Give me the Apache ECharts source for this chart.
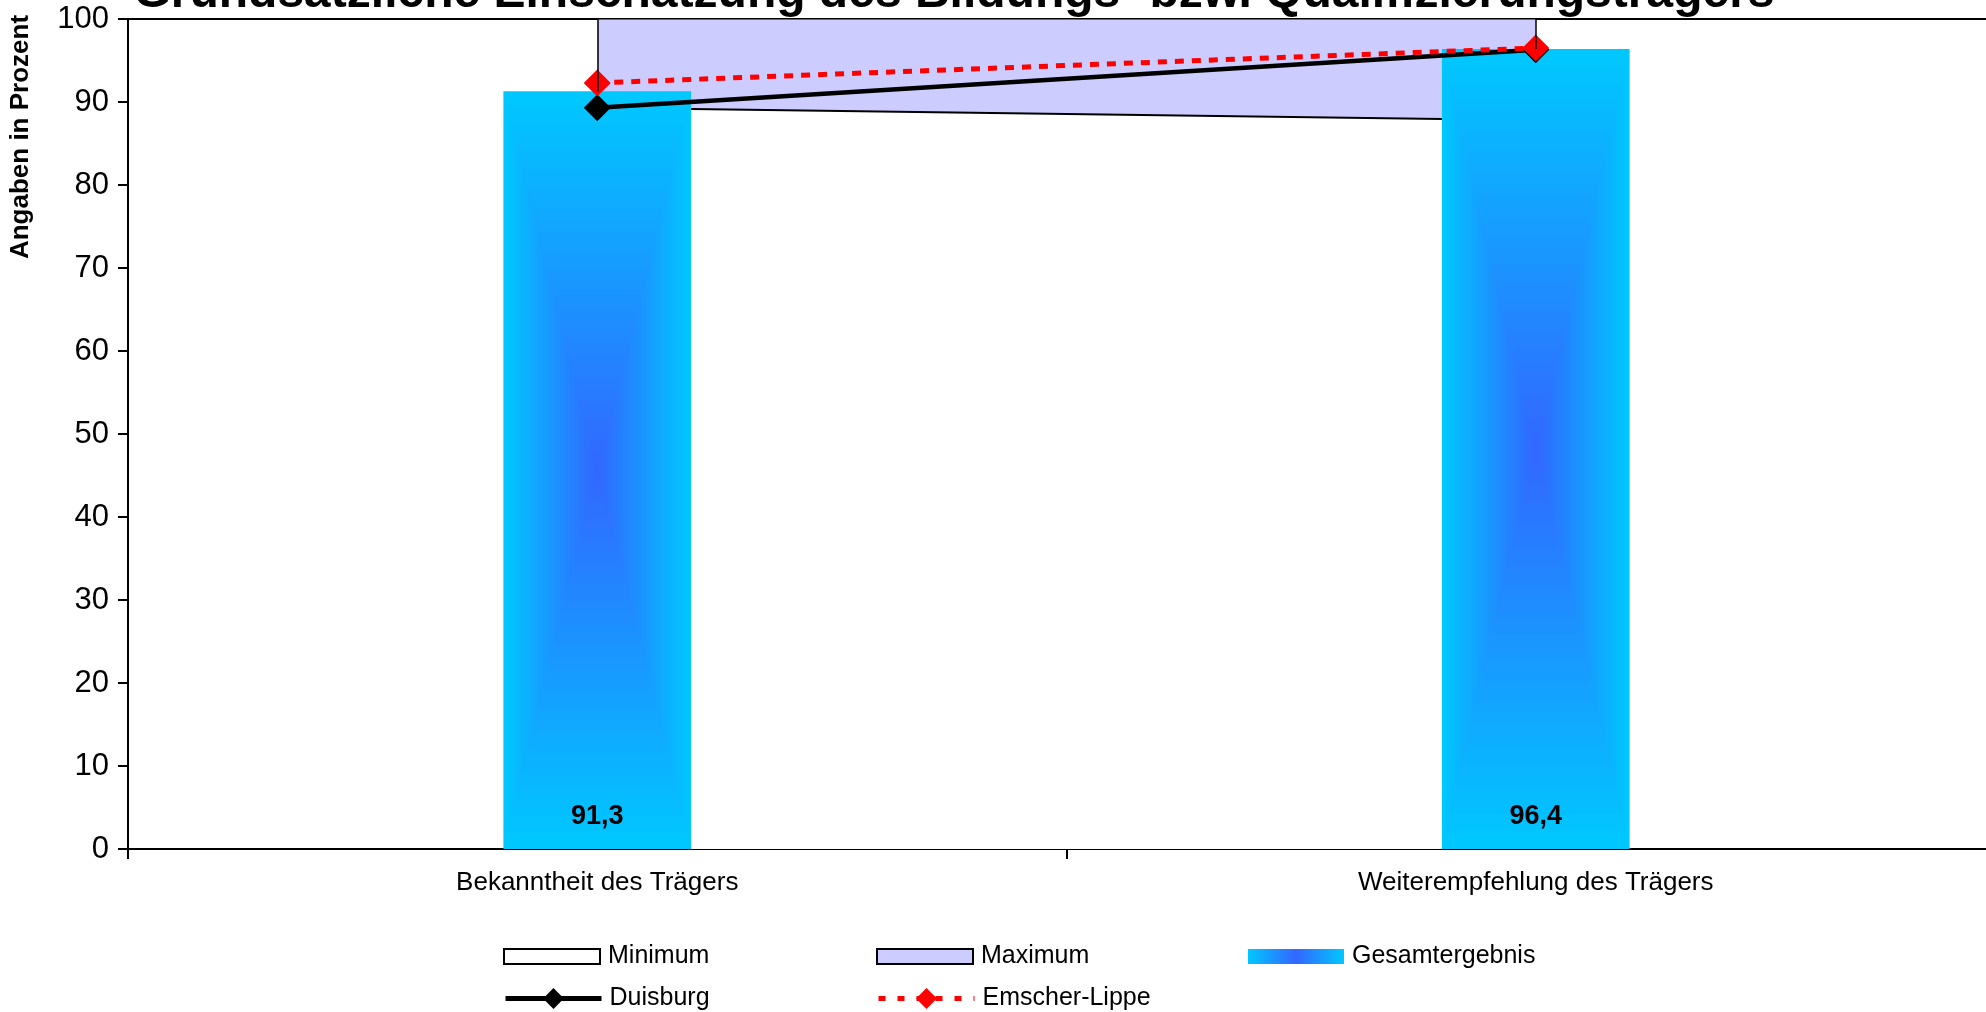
<!DOCTYPE html>
<html>
<head>
<meta charset="utf-8">
<script src="https://cdn.jsdelivr.net/npm/echarts@6/dist/echarts.min.js"></script>
<style>
html,body{margin:0;padding:0;background:#fff;}
#chart{width:1986px;height:1012px;}
</style>
</head>
<body>
<div id="chart"></div>
<script>
// ---- data ----
var categories = ['Bekanntheit des Trägers', 'Weiterempfehlung des Trägers'];
var minimum = [89.3, 87.8];
var maximum = [100, 100];
var gesamtergebnis = [91.3, 96.4];
var duisburg = [89.3, 96.3];
var emscherLippe = [92.3, 96.5];
var yTicks = { min: 0, max: 100, interval: 10 };
var titleText = 'Grundsätzliche Einschätzung des Bildungs- bzw. Qualifizierungsträgers';
var yAxisTitle = 'Angaben in Prozent';

var FONT = '"Liberation Sans", Arial, sans-serif';
var CYAN = [0, 200, 255];
var BLUE = [51, 102, 255];
function rgb(c) { return 'rgb(' + c.map(Math.round).join(',') + ')'; }
function mix(a, b, t) { return [a[0] + (b[0] - a[0]) * t, a[1] + (b[1] - a[1]) * t, a[2] + (b[2] - a[2]) * t]; }

var chart = echarts.init(document.getElementById('chart'), null, { renderer: 'canvas' });

var legendGrad = new echarts.graphic.LinearGradient(0, 0, 1, 0, [
  { offset: 0, color: rgb(CYAN) }, { offset: 0.5, color: rgb(BLUE) }, { offset: 1, color: rgb(CYAN) }
]);

// bar drawn with a rectangular "from centre" gradient (nested rectangles)
function renderGradientBar(params, api) {
  var idx = api.value(0), val = api.value(1);
  var top = api.coord([idx, val]);
  var base = api.coord([idx, 0]);
  var bw = api.size([1, 0])[0] * 0.2;
  var h = base[1] - top[1];
  var cx = top[0], cy = (top[1] + base[1]) / 2;
  var N = 80, children = [];
  for (var i = 0; i < N; i++) {
    var t = i / N;
    var w = bw * (1 - t), hh = h * (1 - t);
    children.push({
      type: 'rect',
      shape: { x: cx - w / 2, y: cy - hh / 2, width: w, height: hh },
      style: { fill: rgb(mix(CYAN, BLUE, t)) },
      silent: true
    });
  }
  return { type: 'group', children: children };
}

function legendAt(left, top, extra) {
  var l = {
    left: left, top: top, padding: 0, orient: 'horizontal',
    itemWidth: 96, itemHeight: 15, selectedMode: false,
    textStyle: { fontFamily: FONT, fontSize: 25, color: '#000', padding: [0, 0, 0, 3] }
  };
  for (var k in extra) l[k] = extra[k];
  return l;
}

var option = {
  animation: false,
  backgroundColor: '#fff',
  graphic: [
    { type: 'text', x: 954, y: -6, style: { text: titleText, font: 'bold 48px ' + FONT, fill: '#000', align: 'center', verticalAlign: 'middle' } },
    { type: 'text', x: 21, y: 137, rotation: Math.PI / 2, style: { text: yAxisTitle, font: 'bold 26px ' + FONT, fill: '#000', align: 'center', verticalAlign: 'middle' } }
  ],
  grid: { left: 128, top: 19, width: 1877, height: 830, show: true, borderColor: '#000', borderWidth: 2, backgroundColor: 'transparent', outerBoundsMode: 'none', containLabel: false },
  legend: [
    legendAt(503, 944, { data: [{ name: 'Minimum', icon: 'rect', itemStyle: { color: '#fff', borderColor: '#000', borderWidth: 2 } }] }),
    legendAt(876, 944, { data: [{ name: 'Maximum', icon: 'rect', itemStyle: { color: '#CCCCFF', borderColor: '#000', borderWidth: 2 } }] }),
    legendAt(1248, 944, { data: [{ name: 'Gesamtergebnis', icon: 'rect', itemStyle: { color: legendGrad } }] }),
    legendAt(503, 986, { itemHeight: 26, data: [{ name: 'Duisburg', lineStyle: { color: '#000', width: 5 } }] }),
    legendAt(876, 986, { itemHeight: 26, data: [{ name: 'Emscher-Lippe', lineStyle: { color: '#FF0000', width: 5, type: [7, 12] } }] })
  ],
  xAxis: {
    type: 'category', data: categories, boundaryGap: true,
    axisLine: { lineStyle: { color: '#000', width: 2 } },
    axisTick: { show: true, length: 10, lineStyle: { color: '#000', width: 2 } },
    axisLabel: { fontFamily: FONT, fontSize: 26, color: '#000', margin: 21 },
    splitLine: { show: false }
  },
  yAxis: {
    type: 'value', min: yTicks.min, max: yTicks.max, interval: yTicks.interval,
    axisLine: { show: true, lineStyle: { color: '#000', width: 2 } },
    axisTick: { show: true, length: 10, lineStyle: { color: '#000', width: 2 } },
    axisLabel: { fontFamily: FONT, fontSize: 31, color: '#000', margin: 19 },
    splitLine: { show: false }
  },
  series: [
    {
      name: 'Maximum', type: 'line', data: maximum, symbol: 'none', z: 1,
      lineStyle: { color: '#000', width: 1 },
      areaStyle: { color: '#CCCCFF', opacity: 1 },
      markLine: {
        silent: true, symbol: 'none', label: { show: false },
        lineStyle: { color: '#000', width: 1.5, type: 'solid' },
        data: [
          [{ xAxis: 0, yAxis: maximum[0] }, { xAxis: 0, yAxis: gesamtergebnis[0] }],
          [{ xAxis: 1, yAxis: maximum[1] }, { xAxis: 1, yAxis: gesamtergebnis[1] }]
        ]
      }
    },
    {
      name: 'Minimum', type: 'line', data: minimum, symbol: 'none', z: 1,
      lineStyle: { color: '#000', width: 2 },
      areaStyle: { color: '#FFFFFF', opacity: 1 }
    },
    {
      name: 'Gesamtergebnis', type: 'custom', z: 2,
      data: gesamtergebnis.map(function (v, i) { return [i, v]; }),
      encode: { x: 0, y: 1 },
      renderItem: renderGradientBar,
      itemStyle: { color: rgb(CYAN) }
    },
    {
      name: 'GesamtLabel', type: 'bar', data: gesamtergebnis, barWidth: 187, z: 2,
      itemStyle: { color: 'rgba(0,0,0,0)' },
      label: {
        show: true, position: 'insideBottom', distance: 19,
        fontFamily: FONT, fontSize: 27, fontWeight: 'bold', color: '#000',
        formatter: function (p) { return String(p.value).replace('.', ','); }
      }
    },
    {
      name: 'Duisburg', type: 'line', data: duisburg, z: 3,
      symbol: 'diamond', symbolSize: 27, showSymbol: true,
      lineStyle: { color: '#000', width: 4.5 },
      itemStyle: { color: '#000' }
    },
    {
      name: 'Emscher-Lippe', type: 'line', data: emscherLippe, z: 4,
      symbol: 'diamond', symbolSize: 27, showSymbol: true,
      lineStyle: { color: '#FF0000', width: 5, type: [9, 8], cap: 'butt' },
      itemStyle: { color: '#FF0000' }
    }
  ]
};
chart.setOption(option);
</script>
</body>
</html>
